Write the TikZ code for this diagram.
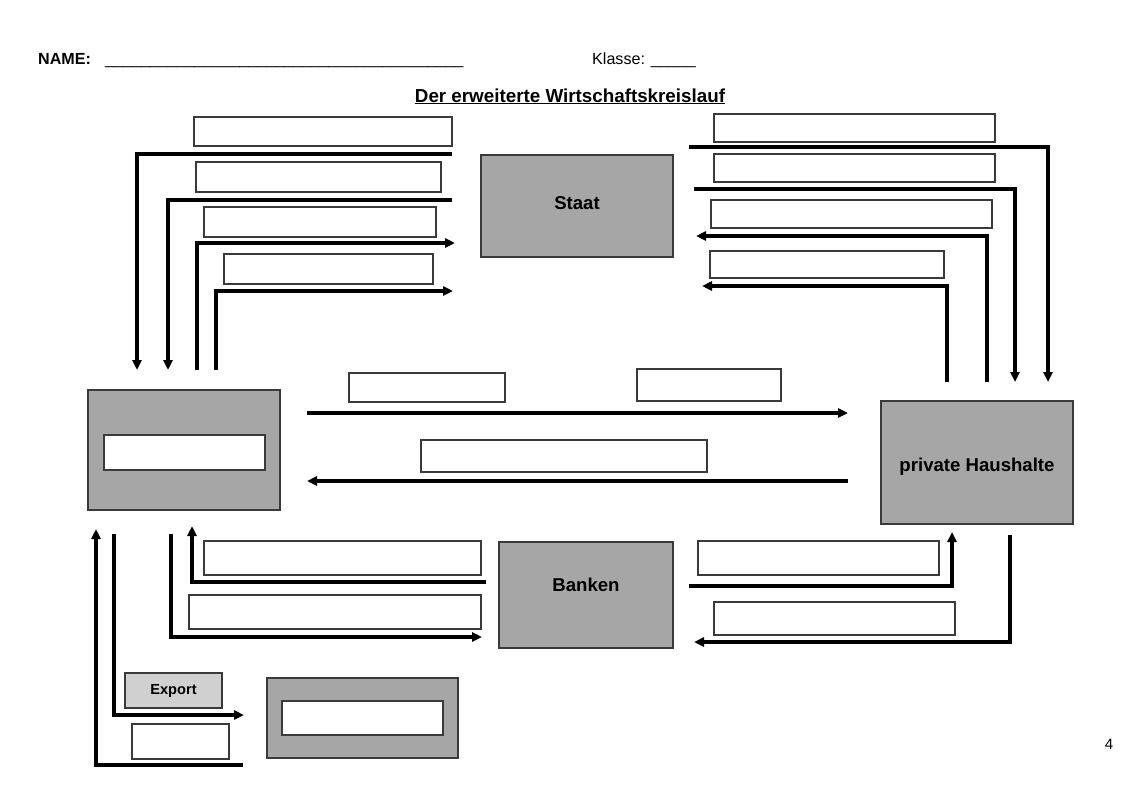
\documentclass[tikz,border=0pt]{standalone}
\usepackage{fontspec}
\setmainfont{Liberation Sans}
\usetikzlibrary{arrows.meta}
\definecolor{boxgray}{HTML}{A6A6A6}
\definecolor{lightgray}{HTML}{D0D0D0}
\definecolor{edgegray}{HTML}{3A3A3A}
\newcommand\wkbox[7]{%
  \pgfmathsetmacro\wkw{#4-#2}\pgfmathsetmacro\wkh{#5-#3}%
  \node[#6, minimum width=\wkw pt, minimum height=\wkh pt, anchor=north west] (#1) at (#2,#3) {#7};}
\begin{document}
\begin{tikzpicture}[x=1pt,y=-1pt,
  blank/.style={draw=edgegray, line width=1.1pt, fill=white, inner sep=0pt, outer sep=0pt},
  sector/.style={draw=edgegray, line width=1.1pt, fill=boxgray, inner sep=0pt, outer sep=0pt},
  exportbox/.style={draw=edgegray, line width=1.1pt, fill=lightgray, inner sep=0pt, outer sep=0pt,
     font=\fontsize{14.6}{17}\selectfont\bfseries},
  lbl/.style={inner sep=0pt, font=\fontsize{18.6}{22}\selectfont\bfseries},
  flow/.style={line width=3.2pt, -{Triangle[length=10pt,width=9pt]}}]
\useasboundingbox (0,0) rectangle (1132,800);
\fill[white] (0,0) rectangle (1132,800);

% header
\node[anchor=base west, inner sep=0pt, font=\fontsize{16.1}{19}\selectfont\bfseries] (name) at (38,64) {NAME:};
\node[anchor=base west, inner sep=0pt, font=\fontsize{16.1}{19}\selectfont] (nameline) at (105,64) {\_\_\_\_\_\_\_\_\_\_\_\_\_\_\_\_\_\_\_\_\_\_\_\_\_\_\_\_\_\_\_\_\_\_\_\_\_\_\_\_};
\node[anchor=base west, inner sep=0pt, font=\fontsize{16.1}{19}\selectfont] (klasse) at (592,64) {Klasse: \_\_\_\_\_};
\node[anchor=base, inner sep=0pt, font=\fontsize{18.8}{22}\selectfont\bfseries] (title) at (570,102) {\underline{Der erweiterte Wirtschaftskreislauf}};

% sector boxes
\wkbox{staat}{481}{155}{673}{257}{sector}{}
\wkbox{banken}{499}{542}{673}{648}{sector}{}
\wkbox{haushalte}{881}{401}{1073}{524}{sector}{}
\wkbox{unternehmen}{88}{390}{280}{510}{sector}{}
\wkbox{ausland}{267}{678}{458}{758}{sector}{}
\node[lbl] (staatT) at (577,203) {Staat};
\node[lbl] (bankenT) at (586,585) {Banken};
\node[lbl] (haushalteT) at (977,467) {private Haushalte};

% inner blanks
\wkbox{unternehmenIn}{104}{435}{265}{470}{blank}{}
\wkbox{auslandIn}{282}{701}{443}{735}{blank}{}

% top-left blanks
\wkbox{tl1}{194}{117}{452}{146}{blank}{}
\wkbox{tl2}{196}{162}{441}{192}{blank}{}
\wkbox{tl3}{204}{207}{436}{237}{blank}{}
\wkbox{tl4}{224}{254}{433}{284}{blank}{}
% top-right blanks
\wkbox{tr1}{714}{114}{995}{142}{blank}{}
\wkbox{tr2}{714}{154}{995}{182}{blank}{}
\wkbox{tr3}{711}{200}{992}{228}{blank}{}
\wkbox{tr4}{710}{251}{944}{278}{blank}{}
% middle blanks
\wkbox{m1}{349}{373}{505}{402}{blank}{}
\wkbox{m2}{637}{369}{781}{401}{blank}{}
\wkbox{m3}{421}{440}{707}{472}{blank}{}
% bottom blanks
\wkbox{bl1}{204}{541}{481}{575}{blank}{}
\wkbox{bl2}{189}{595}{481}{629}{blank}{}
\wkbox{br1}{698}{541}{939}{575}{blank}{}
\wkbox{br2}{714}{602}{955}{635}{blank}{}
\wkbox{export}{125}{673}{222}{708}{exportbox}{Export}
\wkbox{exportIn}{132}{724}{229}{759}{blank}{}

% page number
\node[inner sep=0pt, font=\fontsize{15}{18}\selectfont] (page) at (1109,744) {4};

% connector end points
\coordinate (sL1) at (452,154); \coordinate (eL1) at (137,370);
\coordinate (sL2) at (452,200); \coordinate (eL2) at (168,370);
\coordinate (sL3) at (197,370); \coordinate (eL3) at (455,243);
\coordinate (sL4) at (216,370); \coordinate (eL4) at (453,291);
\coordinate (sR1) at (689,147); \coordinate (eR1) at (1048,382);
\coordinate (sR2) at (694,189); \coordinate (eR2) at (1015,382);
\coordinate (sR3) at (987,382); \coordinate (eR3) at (696,236);
\coordinate (sR4) at (947,382); \coordinate (eR4) at (702,286);
\coordinate (sM1) at (307,413); \coordinate (eM1) at (848,413);
\coordinate (sM2) at (848,481); \coordinate (eM2) at (307,481);
\coordinate (sB1) at (689,586); \coordinate (eB1) at (952,532);
\coordinate (sB2) at (1010,535); \coordinate (eB2) at (694,642);
\coordinate (sB3) at (486,582); \coordinate (eB3) at (192,526);
\coordinate (sB4) at (171,534); \coordinate (eB4) at (482,637);
\coordinate (sB5) at (114,534); \coordinate (eB5) at (244,715);
\coordinate (sB6) at (243,765); \coordinate (eB6) at (96,529);

% connectors
\draw[flow] (sL1) -| (eL1);
\draw[flow] (sL2) -| (eL2);
\draw[flow] (sL3) |- (eL3);
\draw[flow] (sL4) |- (eL4);
\draw[flow] (sR1) -| (eR1);
\draw[flow] (sR2) -| (eR2);
\draw[flow] (sR3) |- (eR3);
\draw[flow] (sR4) |- (eR4);
\draw[flow] (sM1) -- (eM1);
\draw[flow] (sM2) -- (eM2);
\draw[flow] (sB1) -| (eB1);
\draw[flow] (sB2) |- (eB2);
\draw[flow] (sB3) -| (eB3);
\draw[flow] (sB4) |- (eB4);
\draw[flow] (sB5) |- (eB5);
\draw[flow] (sB6) -| (eB6);
\end{tikzpicture}
\end{document}
